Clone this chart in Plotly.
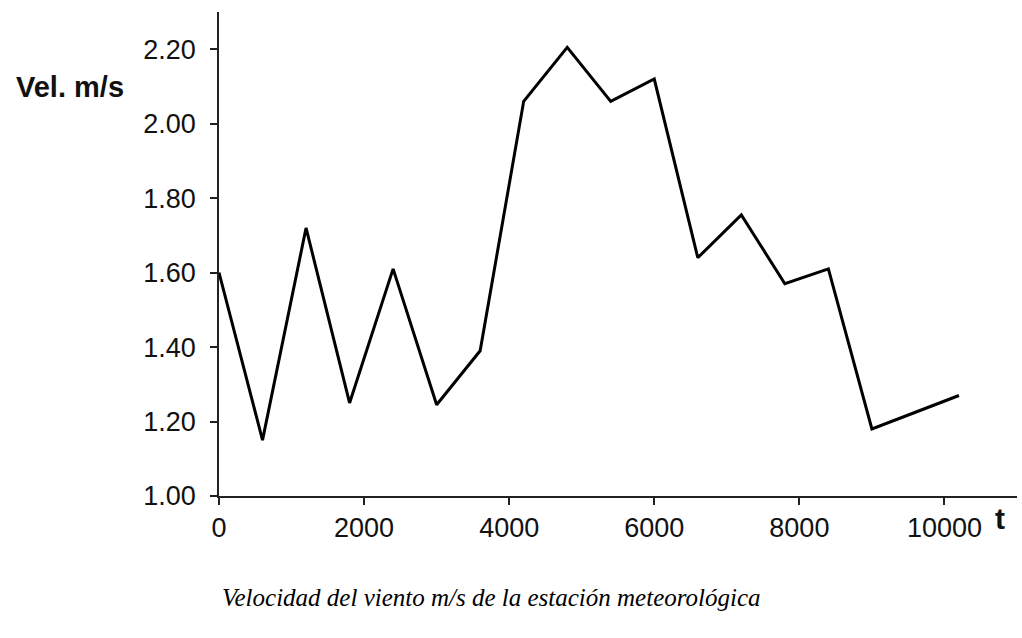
import plotly.graph_objects as go

# Time (s) and wind speed (m/s) samples
tiempo = [0, 600, 1200, 1800, 2400, 3000, 3600, 4200, 4800,
          5400, 6000, 6600, 7200, 7800, 8400, 9000, 9600, 10200]
velocidad = [1.60, 1.15, 1.72, 1.25, 1.61, 1.245, 1.39, 2.06, 2.205,
             2.06, 2.12, 1.64, 1.755, 1.57, 1.61, 1.18, 1.225, 1.27]

x_ticks = [0, 2000, 4000, 6000, 8000, 10000]
y_ticks = [1.00, 1.20, 1.40, 1.60, 1.80, 2.00, 2.20]

SANS = "Liberation Sans, Arial, sans-serif"
SERIF = "Liberation Serif, Times New Roman, serif"

fig = go.Figure()
fig.add_trace(go.Scatter(
    x=tiempo, y=velocidad, mode="lines",
    line=dict(color="#000000", width=3),
    showlegend=False, hoverinfo="skip",
))

axis_common = dict(
    showline=True, linecolor="#222222", linewidth=1.5,
    ticks="outside", ticklen=7, tickwidth=1.5, tickcolor="#222222",
    showgrid=False, zeroline=False,
    tickfont=dict(family=SANS, size=27, color="#111111"),
)

fig.update_xaxes(range=[0, 11000], tickvals=x_ticks,
                 ticktext=[str(v) for v in x_ticks],
                 ticklabelstandoff=0, **axis_common)
fig.update_yaxes(range=[1.0, 2.3], tickvals=y_ticks,
                 ticktext=[f"{v:.2f}" for v in y_ticks],
                 ticklabelstandoff=9, **axis_common)

fig.add_annotation(text="<b>Vel. m/s</b>", xref="paper", yref="paper",
                   x=-0.1867, y=0.845, showarrow=False,
                   xanchor="center", yanchor="middle",
                   font=dict(family=SANS, size=29, color="#111111"))
fig.add_annotation(text="<b>t</b>", xref="paper", yref="paper",
                   x=0.979, y=-0.046, showarrow=False,
                   xanchor="center", yanchor="middle",
                   font=dict(family=SANS, size=30, color="#111111"))
fig.add_annotation(text="<i>Velocidad del viento m/s de la estación meteorológica</i>",
                   xref="paper", yref="paper", x=0.342, y=-0.209,
                   showarrow=False, xanchor="center", yanchor="middle",
                   font=dict(family=SERIF, size=25, color="#000000"))

fig.update_layout(
    width=1022, height=638,
    margin=dict(l=219, r=5, t=12, b=142),
    paper_bgcolor="white", plot_bgcolor="white",
)

fig.write_html("out.html")
